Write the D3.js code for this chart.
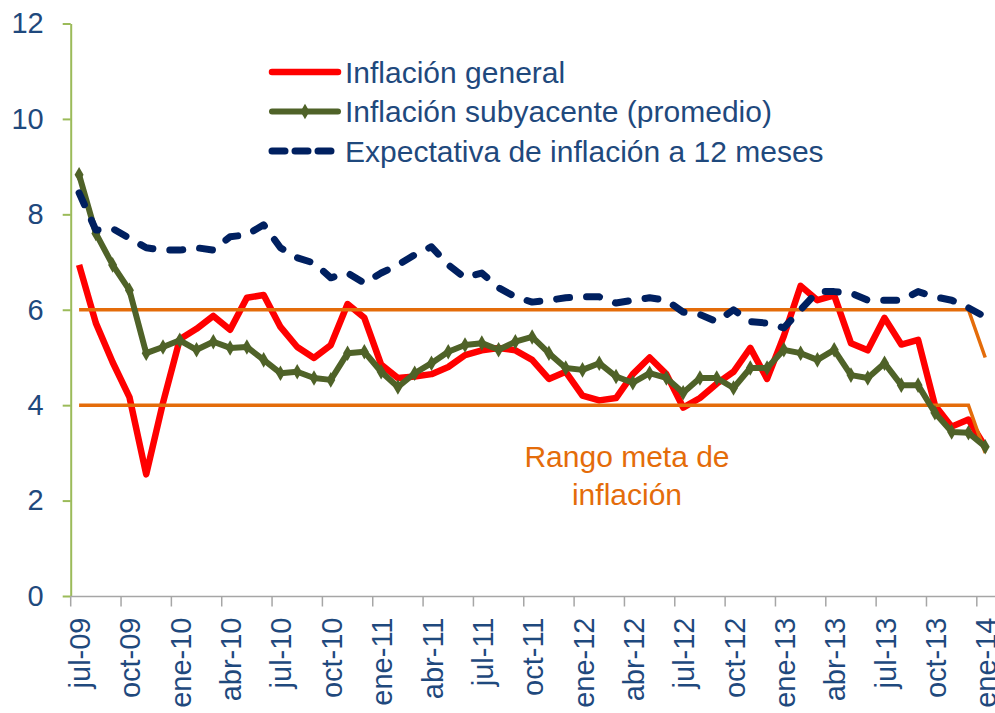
<!DOCTYPE html>
<html>
<head>
<meta charset="utf-8">
<script src="https://cdn.jsdelivr.net/npm/d3@7"></script>
<style>
  body { margin: 0; background: #fff; }
  svg { display: block; font-family: "Liberation Sans", Arial, sans-serif; }
</style>
</head>
<body>
<svg id="chart" width="995" height="713"></svg>
<script>
// meses (categorías)
var meses = ["jul-09","ago-09","sep-09","oct-09","nov-09","dic-09",
  "ene-10","feb-10","mar-10","abr-10","may-10","jun-10","jul-10","ago-10","sep-10","oct-10","nov-10","dic-10",
  "ene-11","feb-11","mar-11","abr-11","may-11","jun-11","jul-11","ago-11","sep-11","oct-11","nov-11","dic-11",
  "ene-12","feb-12","mar-12","abr-12","may-12","jun-12","jul-12","ago-12","sep-12","oct-12","nov-12","dic-12",
  "ene-13","feb-13","mar-13","abr-13","may-13","jun-13","jul-13","ago-13","sep-13","oct-13","nov-13","dic-13",
  "ene-14"]

var general = [6.94, 5.72, 4.9, 4.17, 2.55, 4.05,
  5.38, 5.6, 5.87, 5.58, 6.25, 6.31, 5.64, 5.22, 4.99, 5.26, 6.12, 5.83,
  4.85, 4.57, 4.6, 4.65, 4.8, 5.05, 5.15, 5.2, 5.15, 4.95, 4.55, 4.7,
  4.2, 4.1, 4.15, 4.65, 5.0, 4.65, 3.95, 4.15, 4.45, 4.7, 5.2, 4.55,
  5.45, 6.5, 6.2, 6.3, 5.3, 5.15, 5.83, 5.27, 5.37, 4.0, 3.55, 3.7,
  3.13]

var subyacente = [8.83, 7.6, 6.94, 6.41, 5.09, 5.22,
  5.36, 5.16, 5.33, 5.2, 5.22, 4.95, 4.67, 4.7, 4.57, 4.53, 5.09, 5.12,
  4.7, 4.38, 4.67, 4.88, 5.12, 5.26, 5.3, 5.16, 5.33, 5.43, 5.09, 4.78,
  4.74, 4.88, 4.6, 4.47, 4.67, 4.57, 4.26, 4.57, 4.57, 4.36, 4.78, 4.78,
  5.16, 5.09, 4.95, 5.16, 4.63, 4.57, 4.88, 4.42, 4.42, 3.84, 3.44, 3.42,
  3.13]

var expectativa = [8.45, 7.67, 7.7, 7.5, 7.3, 7.25,
  7.25, 7.3, 7.25, 7.53, 7.57, 7.78, 7.3, 7.09, 6.98, 6.67, 6.77, 6.56,
  6.77, 6.94, 7.15, 7.32, 6.94, 6.67, 6.77, 6.46, 6.27, 6.16, 6.2, 6.25,
  6.27, 6.27, 6.14, 6.2, 6.25, 6.2, 5.95, 5.9, 5.75, 6.0, 5.75, 5.72,
  5.62, 6.0, 6.38, 6.38, 6.35, 6.2, 6.2, 6.2, 6.38, 6.27, 6.2, 6.04,
  5.85]

// rango meta de inflación
var metaSup = [6, 6, 6, 6, 6, 6,
  6, 6, 6, 6, 6, 6, 6, 6, 6, 6, 6, 6,
  6, 6, 6, 6, 6, 6, 6, 6, 6, 6, 6, 6,
  6, 6, 6, 6, 6, 6, 6, 6, 6, 6, 6, 6,
  6, 6, 6, 6, 6, 6, 6, 6, 6, 6, 6, 6,
  5]
var metaInf = [4, 4, 4, 4, 4, 4,
  4, 4, 4, 4, 4, 4, 4, 4, 4, 4, 4, 4,
  4, 4, 4, 4, 4, 4, 4, 4, 4, 4, 4, 4,
  4, 4, 4, 4, 4, 4, 4, 4, 4, 4, 4, 4,
  4, 4, 4, 4, 4, 4, 4, 4, 4, 4, 4, 4,
  3]

var yTicks = [0, 2, 4, 6, 8, 10, 12]

var textColor = "#1f497d"
var svg = d3.select("#chart")

var x = d3.scaleBand()
    .domain(meses)
    .range([70.7, 993.6])
    .padding(0)
var bw = x.bandwidth()
var cx = m => x(m) + bw / 2

var y = d3.scaleLinear()
    .domain([0, 12])
    .range([596, 23.5])

// eje y
var yAxis = svg.append("g")
    .attr("transform", "translate(70.7,0)")
    .call(d3.axisLeft(y).tickValues(yTicks).tickSize(8).tickSizeOuter(0).tickPadding(19))
yAxis.select(".domain").attr("stroke", "#9bbb59").attr("stroke-width", 2)
yAxis.selectAll(".tick line").attr("stroke", "#9bbb59").attr("stroke-width", 2)
yAxis.selectAll(".tick text")
    .attr("fill", textColor)
    .style("font-size", "29px")
    .style("font-family", "'Liberation Sans', Arial, sans-serif")

// eje x
var xAxis = svg.append("g")
    .attr("transform", "translate(0,596.5)")
    .call(d3.axisBottom(x)
        .tickValues(meses.filter((m, i) => i % 3 == 0))
        .tickSize(10)
        .tickSizeOuter(0))
xAxis.select(".domain").attr("d", "M70.7,0H995").attr("stroke", "#a6a6a6").attr("stroke-width", 1.5)
xAxis.selectAll(".tick line")
    .attr("x1", -bw / 2).attr("x2", -bw / 2)
    .attr("stroke", "#a6a6a6").attr("stroke-width", 1.5)
xAxis.selectAll(".tick text")
    .attr("transform", "rotate(-90)")
    .attr("text-anchor", "end")
    .attr("x", -21)
    .attr("y", 0)
    .attr("dy", "0.38em")
    .attr("fill", textColor)
    .style("font-size", "29px")
    .style("font-family", "'Liberation Sans', Arial, sans-serif")

function linea(vals) {
    return d3.line()
        .x((d, i) => cx(meses[i]))
        .y(d => y(d))(vals)
}

var plot = svg.append("g")

plot.append("path")
    .attr("d", linea(general))
    .attr("fill", "none")
    .attr("stroke", "#ff0000")
    .attr("stroke-width", 6.5)
    .attr("stroke-linejoin", "round")

plot.selectAll(".meta")
    .data([metaSup, metaInf])
    .enter()
    .append("path")
        .attr("class", "meta")
        .attr("d", d => linea(d))
        .attr("fill", "none")
        .attr("stroke", "#e46c0a")
        .attr("stroke-width", 3.5)

plot.append("path")
    .attr("d", linea(subyacente))
    .attr("fill", "none")
    .attr("stroke", "#4f6228")
    .attr("stroke-width", 6)
    .attr("stroke-linejoin", "round")

plot.selectAll(".mk")
    .data(subyacente)
    .enter()
    .append("path")
        .attr("class", "mk")
        .attr("d", d3.symbol().type(d3.symbolDiamond).size(70))
        .attr("transform", (d, i) => "translate(" + cx(meses[i]) + "," + y(d) + ")")
        .attr("fill", "#4f6228")

plot.append("path")
    .attr("d", linea(expectativa))
    .attr("fill", "none")
    .attr("stroke", "#002060")
    .attr("stroke-width", 7)
    .attr("stroke-linecap", "round")
    .attr("stroke-linejoin", "round")
    .attr("stroke-dasharray", "13,17")

// leyenda
var leyenda = [
    {nombre: "Inflación general", color: "#ff0000", w: 6.5, dash: null, mk: false},
    {nombre: "Inflación subyacente (promedio)", color: "#4f6228", w: 6, dash: null, mk: true},
    {nombre: "Expectativa de inflación a 12 meses", color: "#002060", w: 7, dash: "13,10", mk: false}
]
var lg = svg.append("g")
leyenda.forEach((d, i) => {
    var yy = 72 + i * 39.5
    var ln = lg.append("line")
        .attr("x1", 272).attr("x2", 338)
        .attr("y1", yy).attr("y2", yy)
        .attr("stroke", d.color)
        .attr("stroke-width", d.w)
        .attr("stroke-linecap", "round")
    if (d.dash) ln.attr("stroke-dasharray", d.dash)
    if (d.mk) {
        lg.append("path")
            .attr("d", d3.symbol().type(d3.symbolDiamond).size(70))
            .attr("transform", "translate(305," + yy + ")")
            .attr("fill", d.color)
    }
    lg.append("text")
        .attr("x", 345).attr("y", yy)
        .attr("dy", "0.35em")
        .attr("fill", textColor)
        .style("font-size", "30px")
        .text(d.nombre)
})

// anotación
svg.append("text")
    .attr("x", 627).attr("y", 467)
    .attr("text-anchor", "middle")
    .attr("fill", "#e46c0a")
    .style("font-size", "30px")
    .text("Rango meta de")
svg.append("text")
    .attr("x", 627).attr("y", 505)
    .attr("text-anchor", "middle")
    .attr("fill", "#e46c0a")
    .style("font-size", "30px")
    .text("inflación")
</script>
</body>
</html>
